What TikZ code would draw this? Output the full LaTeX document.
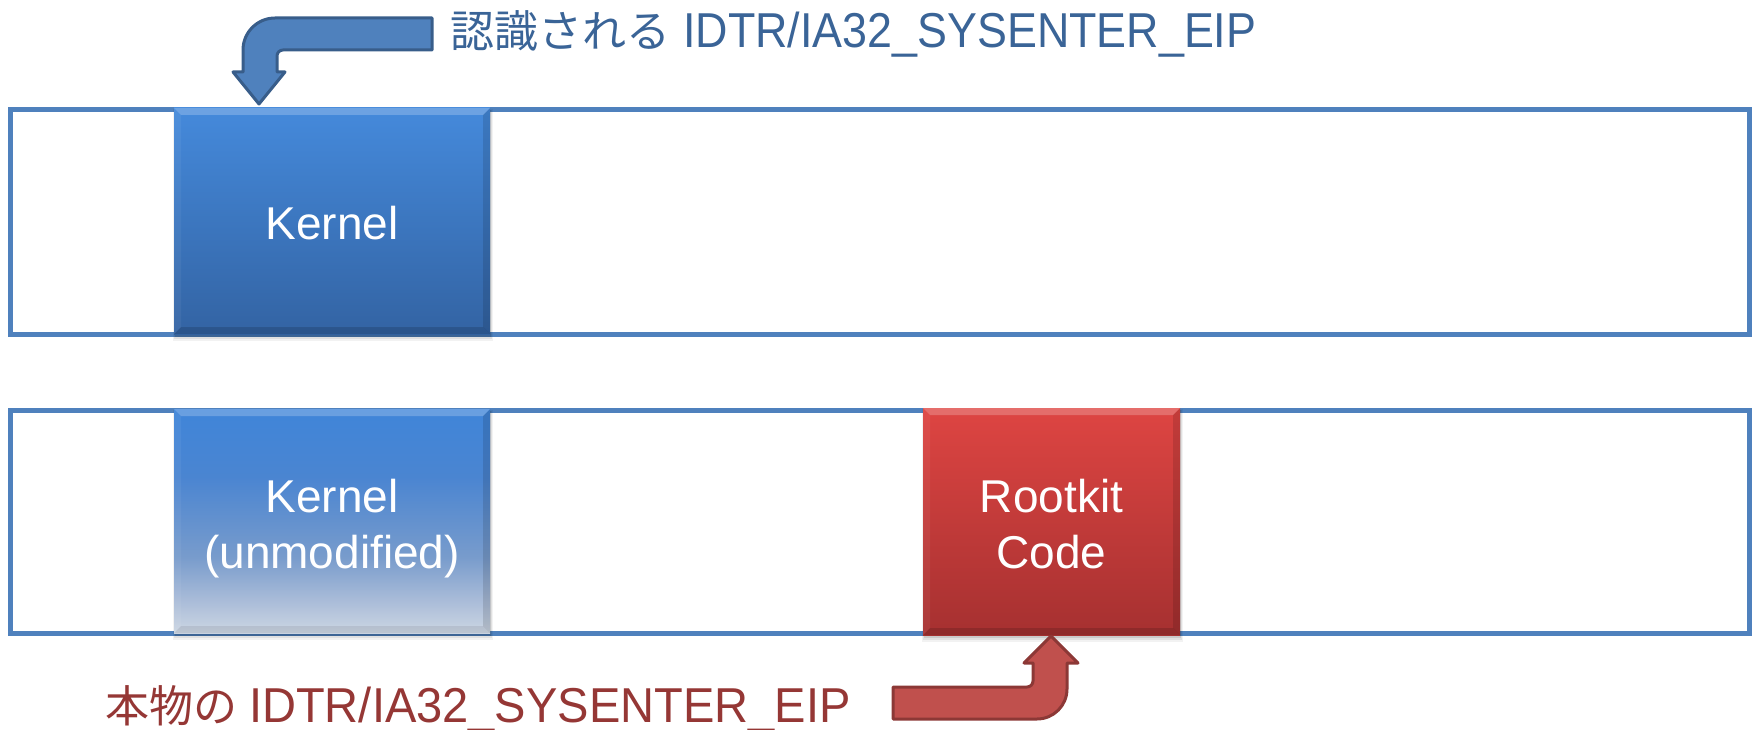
\documentclass[tikz,border=0pt]{standalone}
\usepackage{fontspec}
\setmainfont{Liberation Sans}
\newfontfamily\jpf{Noto Sans CJK JP}
\newfontfamily\latf[FakeStretch=0.915]{Liberation Sans}
\newfontfamily\latg[FakeStretch=0.96]{Liberation Sans}
\definecolor{barblue}{HTML}{4F81BD}
\definecolor{arrowbluefill}{HTML}{4F81BD}
\definecolor{arrowblueline}{HTML}{385D8A}
\definecolor{arrowredfill}{HTML}{C0504D}
\definecolor{arrowredline}{HTML}{8C3836}
\definecolor{textblue}{HTML}{3A6497}
\definecolor{textred}{HTML}{953735}
\pgfdeclareverticalshading{kerntop}{100bp}{rgb(0bp)=(0.20,0.39,0.64); rgb(25bp)=(0.20,0.39,0.64); rgb(75bp)=(0.27,0.54,0.86); rgb(100bp)=(0.27,0.54,0.86)}
\pgfdeclareverticalshading{kernfade}{100bp}{rgb(0bp)=(0.80,0.84,0.89); rgb(25bp)=(0.80,0.84,0.89); rgb(32bp)=(0.67,0.74,0.85); rgb(42bp)=(0.47,0.61,0.80); rgb(60bp)=(0.29,0.52,0.82); rgb(75bp)=(0.25,0.52,0.85); rgb(100bp)=(0.25,0.52,0.85)}
\pgfdeclareverticalshading{rootshade}{100bp}{rgb(0bp)=(0.65,0.19,0.19); rgb(25bp)=(0.65,0.19,0.19); rgb(75bp)=(0.87,0.27,0.26); rgb(100bp)=(0.87,0.27,0.26)}
\newcommand\bevelbox[7]{%
  \fill[black, opacity=0.05] ({#2-1},{#3+1}) rectangle ({#4+3},{#5+7});
  \fill[black, opacity=0.07] (#2,{#3+2}) rectangle ({#4+2},{#5+5});
  \fill[black, opacity=0.10] ({#2+1},{#3+2}) rectangle ({#4+1},{#5+3});
  \node[draw=none, inner sep=0pt, outer sep=0pt, shading=#6,
        minimum width={(#4)-(#2)}, minimum height={(#5)-(#3)}]
        (#1) at ({(#2+#4)/2},{(#3+#5)/2}) {};
  \fill[white, opacity=0.22] (#2,#3) -- (#4,#3) -- ({#4-7},{#3+7}) -- ({#2+7},{#3+7}) -- cycle;
  \fill[black, opacity=#7] (#2,#5) -- (#4,#5) -- ({#4-7},{#5-7}) -- ({#2+7},{#5-7}) -- cycle;
  \fill[black, opacity=0.12] (#4,#3) -- (#4,#5) -- ({#4-7},{#5-7}) -- ({#4-7},{#3+7}) -- cycle;
  \fill[white, opacity=0.05] (#2,#3) -- (#2,#5) -- ({#2+7},{#5-7}) -- ({#2+7},{#3+7}) -- cycle;
}
\begin{document}
\begin{tikzpicture}[x=1pt, y=-1pt,
  bar/.style={draw=barblue, line width=5pt, fill=white, inner sep=0pt, outer sep=0pt},
  boxtext/.style={text=white, font=\fontsize{46}{56}\selectfont, inner sep=0pt, anchor=base},
  arrowA/.style={fill=arrowbluefill, draw=arrowblueline, line width=3pt, line join=round},
  arrowB/.style={fill=arrowredfill, draw=arrowredline, line width=3pt, line join=round},
  lbl/.style={inner sep=0pt, anchor=base west}]
\useasboundingbox (0,0) rectangle (1757,730);
% memory bars
\node[bar, minimum width=1739pt, minimum height=224pt] (mem1) at (879.5,222) {};
\node[bar, minimum width=1739pt, minimum height=223pt] (mem2) at (879.5,521.5) {};
% boxes
\bevelbox{k1}{174}{108}{490}{334}{kerntop}{0.14}
\bevelbox{k2}{174}{409}{490}{633}{kernfade}{0.08}
\bevelbox{rk}{923}{408}{1180}{635}{rootshade}{0.14}
% box texts
\node[boxtext] (k1t) at (332,240) {Kernel};
\node[boxtext] (k2t1) at (332,512) {Kernel};
\node[boxtext] (k2t2) at (332,568) {(unmodified)};
\node[boxtext] (rkt1) at (1051.5,512) {Rootkit};
\node[boxtext] (rkt2) at (1051.5,568) {Code};
% top bent arrow
\coordinate (tipA) at (259,104);
\draw[arrowA] (432,18) -- (275,18) .. controls (257.3,18) and (243,32.3) .. (243,50)
  -- (243,72) -- (233,72) -- (tipA) -- (285,72) -- (277,72) -- (277,56)
  .. controls (277,52.7) and (279.7,50) .. (283,50) -- (432,50) -- cycle;
% bottom bent arrow
\coordinate (tipB) at (1051,636);
\draw[arrowB] (893,687) -- (1027,687) .. controls (1030.3,687) and (1033,684.3) .. (1033,681)
  -- (1033,663) -- (1024,663) -- (tipB) -- (1078,663) -- (1067,663) -- (1067,689)
  .. controls (1067,705.6) and (1053.6,719) .. (1037,719) -- (893,719) -- cycle;
% labels
\node[lbl, text=textblue] (ltop) at (450,48)
  {\fontsize{44}{50}\selectfont\jpf 認識される\hspace{13pt}\fontsize{49}{50}\latf IDTR/IA32\_SYSENTER\_EIP};
\node[lbl, text=textred] (lbot) at (105,722)
  {\fontsize{44}{50}\selectfont\jpf 本物の\hspace{12pt}\fontsize{49}{50}\latg IDTR/IA32\_SYSENTER\_EIP};
\end{tikzpicture}
\end{document}
